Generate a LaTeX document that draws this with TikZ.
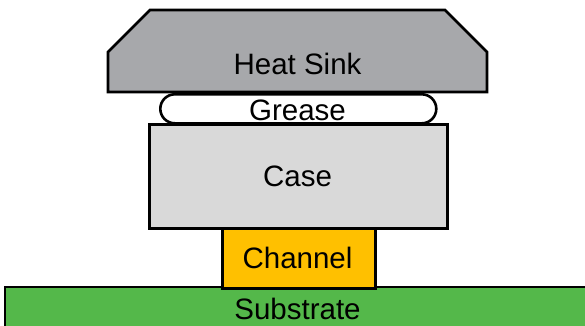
\documentclass[tikz,border=0pt]{standalone}
\usepackage{fontspec}
\setmainfont{Liberation Sans}
\begin{document}
\begin{tikzpicture}[x=1pt,y=-1pt,
  part/.style={draw=black,line width=2.6pt,line join=miter},
  lbl/.style={anchor=base,inner sep=0pt,font=\fontsize{29.5}{34}\selectfont},
  box/.style={part,rectangle,inner sep=0pt,anchor=north west}]
\definecolor{sinkgray}{RGB}{167,168,171}
\definecolor{casegray}{RGB}{217,217,217}
\definecolor{chanorange}{RGB}{255,192,0}
\definecolor{subgreen}{RGB}{84,184,74}
\useasboundingbox (0,0) rectangle (585,325);
\clip (0,0) rectangle (585,325);
% substrate
\node[rectangle,inner sep=0pt,anchor=north west,fill=subgreen,minimum width=700pt,minimum height=60pt] (sub) at (5,287) {};
\draw[line width=2.6pt] (sub.south west) -- (sub.north west) -- (sub.north east);
% channel
\node[box,fill=chanorange,minimum width=153pt,minimum height=60pt] (chan) at (221,227) {};
% heat sink
\draw[part,fill=sinkgray] (150,10) -- (445,10) -- (487,52) -- (487,92) -- (108,92) -- (108,52) -- cycle;
% grease
\node[part,rectangle,rounded corners=14.5pt,fill=white,inner sep=0pt,anchor=north west,minimum width=276pt,minimum height=29pt] (grease) at (159,93) {};
% case
\node[box,fill=casegray,minimum width=298pt,minimum height=104pt] (case) at (148,123) {};
% labels
\node[lbl] (tsink) at (297.5,74) {Heat Sink};
\node[lbl] (tgrease) at (297.5,120) {Grease};
\node[lbl] (tcase) at (297.5,186) {Case};
\node[lbl] (tchan) at (297.5,268) {Channel};
\node[lbl] (tsub) at (297.5,319) {Substrate};
\end{tikzpicture}
\end{document}
